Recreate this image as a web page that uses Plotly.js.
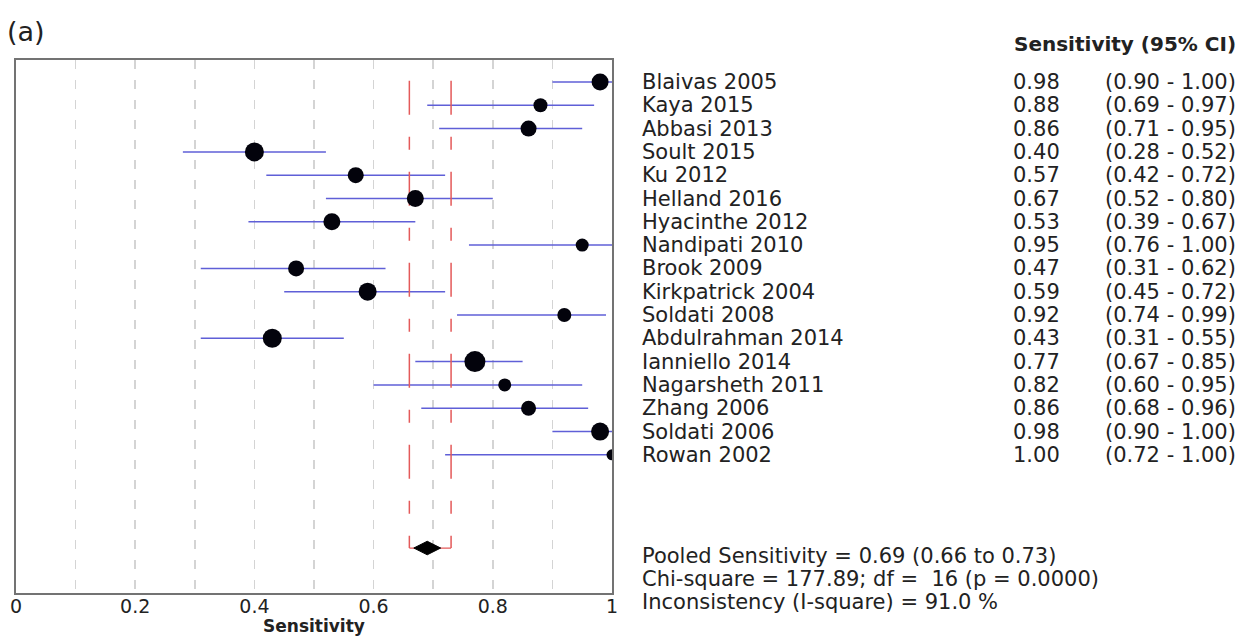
<!DOCTYPE html>
<html>
<head>
<meta charset="utf-8">
<script src="https://cdn.plot.ly/plotly-3.0.1.min.js"></script>
<style>html,body{margin:0;padding:0;background:#fff;}#chart{width:1248px;height:639px;}</style>
</head>
<body>
<div id="chart"></div>
<script>
// ---- data ----
const studies = ["Blaivas 2005","Kaya 2015","Abbasi 2013","Soult 2015","Ku 2012","Helland 2016","Hyacinthe 2012","Nandipati 2010","Brook 2009","Kirkpatrick 2004","Soldati 2008","Abdulrahman 2014","Ianniello 2014","Nagarsheth 2011","Zhang 2006","Soldati 2006","Rowan 2002"];
const sens = [0.98,0.88,0.86,0.40,0.57,0.67,0.53,0.95,0.47,0.59,0.92,0.43,0.77,0.82,0.86,0.98,1.00];
const ciLow = [0.90,0.69,0.71,0.28,0.42,0.52,0.39,0.76,0.31,0.45,0.74,0.31,0.67,0.60,0.68,0.90,0.72];
const ciHigh = [1.00,0.97,0.95,0.52,0.72,0.80,0.67,1.00,0.62,0.72,0.99,0.55,0.85,0.95,0.96,1.00,1.00];
const studyWeight = [17,14,16,19,16,17,17,13,16,18,14,19,21,13,15,18,11];
const pooled = 0.69, pooledLow = 0.66, pooledHigh = 0.73;
const chiSquare = "177.89", df = 16, pValue = "0.0000", iSquare = "91.0";
const xTicks = [0,0.2,0.4,0.6,0.8,1];
const xTitle = "Sensitivity";

// ---- layout helpers ----
const L = 16, PW = 596, T = 60, PH = 533;
const px = p => (p - L) / PW;          // pixel x -> paper x
const py = q => 1 - (q - T) / PH;      // pixel y -> paper y
const rows = studies.map((_, i) => i);
const pooledRow = 20;
const FONT = "DejaVu Sans, Arial, sans-serif";
const TXT = "#222222";
const blue = "rgb(95,95,215)";
const red = "rgb(228,90,90)";

const traces = [];
// CI lines
const cx = [], cy = [];
rows.forEach(i => { cx.push(ciLow[i], ciHigh[i], null); cy.push(i, i, null); });
traces.push({type:"scatter", mode:"lines", x:cx, y:cy, line:{color:blue, width:1.5}, hoverinfo:"skip", showlegend:false});
// pooled CI bracket (dashed verticals)
traces.push({type:"scatter", mode:"lines", x:[pooledLow,pooledLow,null,pooledHigh,pooledHigh], y:[-0.05,pooledRow,null,-0.05,pooledRow],
  line:{color:red, width:1.5, dash:"34px,22px,13px,22px"}, hoverinfo:"skip", showlegend:false});
traces.push({type:"scatter", mode:"lines", x:[pooledLow,pooledHigh], y:[pooledRow,pooledRow],
  line:{color:red, width:1.2}, hoverinfo:"skip", showlegend:false});
// point estimates
traces.push({type:"scatter", mode:"markers", x:sens, y:rows,
  marker:{color:"#03030c", opacity:1, size:studyWeight, line:{width:0}}, showlegend:false});
// pooled diamond
const hw = 0.0225, hh = 0.29;
traces.push({type:"scatter", mode:"lines", fill:"toself", fillcolor:"#000",
  x:[pooled-hw, pooled, pooled+hw, pooled, pooled-hw], y:[pooledRow, pooledRow-hh, pooledRow, pooledRow+hh, pooledRow],
  line:{color:"#000", width:1}, hoverinfo:"skip", showlegend:false});

const ann = [];
const f = (s) => ({family:FONT, size:s, color:TXT});
rows.forEach(i => {
  ann.push({xref:"paper", yref:"y", x:px(640), y:i, text:studies[i], showarrow:false, xanchor:"left", yanchor:"middle", font:f(21)});
  ann.push({xref:"paper", yref:"y", x:px(1062), y:i, text:sens[i].toFixed(2), showarrow:false, xanchor:"right", yanchor:"middle", font:f(21)});
  ann.push({xref:"paper", yref:"y", x:px(1238), y:i, text:"(" + ciLow[i].toFixed(2) + " - " + ciHigh[i].toFixed(2) + ")", showarrow:false, xanchor:"right", yanchor:"middle", font:f(21)});
});
ann.push({xref:"paper", yref:"paper", x:px(1238), y:py(44), text:"<b>Sensitivity (95% CI)</b>", showarrow:false, xanchor:"right", yanchor:"middle", font:f(20)});
ann.push({xref:"paper", yref:"paper", x:px(5), y:py(31), text:"(a)", showarrow:false, xanchor:"left", yanchor:"middle", font:f(27)});
ann.push({xref:"paper", yref:"paper", x:px(640), y:py(556), text:"Pooled Sensitivity = " + pooled.toFixed(2) + " (" + pooledLow.toFixed(2) + " to " + pooledHigh.toFixed(2) + ")", showarrow:false, xanchor:"left", yanchor:"middle", font:f(21)});
ann.push({xref:"paper", yref:"paper", x:px(640), y:py(579), text:"Chi-square = " + chiSquare + "; df =  " + df + " (p = " + pValue + ")", showarrow:false, xanchor:"left", yanchor:"middle", font:f(21)});
ann.push({xref:"paper", yref:"paper", x:px(640), y:py(602), text:"Inconsistency (I-square) = " + iSquare + " %", showarrow:false, xanchor:"left", yanchor:"middle", font:f(21)});
// x-axis title
ann.push({xref:"paper", yref:"paper", x:0.5, y:py(626), text:"<b>" + xTitle + "</b>", showarrow:false, xanchor:"center", yanchor:"middle", font:f(17)});

const layout = {
  width:1248, height:639,
  margin:{l:L, r:1248-L-PW, t:T, b:639-T-PH, pad:0},
  paper_bgcolor:"#fff", plot_bgcolor:"#fff",
  showlegend:false,
  xaxis:{range:[0,1], tickvals:xTicks, ticktext:xTicks.map(v => String(v)), ticks:"", ticklen:0, zeroline:false,
    ticklabelstandoff:-5,
    showgrid:true, gridcolor:"rgb(212,212,212)", griddash:"9px,11px", gridwidth:1.5,
    minor:{tickvals:[0.1,0.3,0.5,0.7,0.9], showgrid:true, gridcolor:"rgb(212,212,212)", griddash:"9px,11px", gridwidth:1.5, ticks:""},
    showline:true, mirror:true, linecolor:"rgb(115,115,115)", linewidth:2,
    tickfont:{family:FONT, size:19, color:TXT}, fixedrange:true},
  yaxis:{range:[21.93,-0.944], showticklabels:false, ticks:"", showgrid:false, zeroline:false,
    showline:true, mirror:true, linecolor:"rgb(115,115,115)", linewidth:2, fixedrange:true},
  annotations:ann
};
Plotly.newPlot("chart", traces, layout, {displayModeBar:false, staticPlot:true});
</script>
</body>
</html>
